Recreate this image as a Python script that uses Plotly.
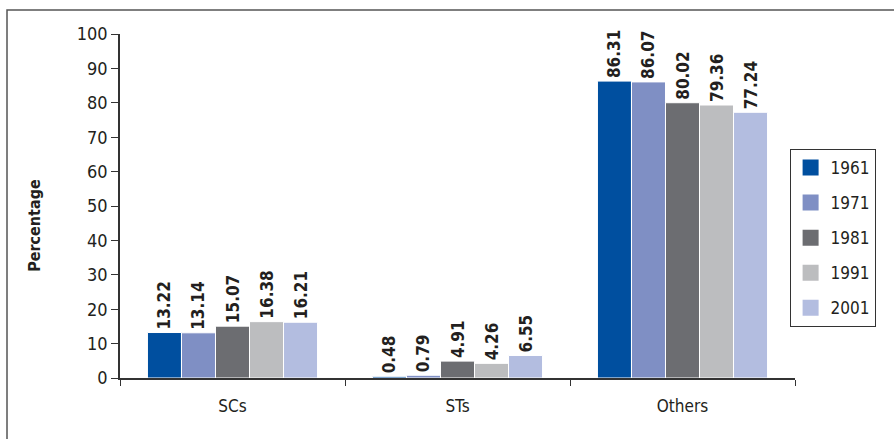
import plotly.graph_objects as go

categories = ["SCs", "STs", "Others"]
years = ["1961", "1971", "1981", "1991", "2001"]
values = {
    "1961": [13.22, 0.48, 86.31],
    "1971": [13.14, 0.79, 86.07],
    "1981": [15.07, 4.91, 80.02],
    "1991": [16.38, 4.26, 79.36],
    "2001": [16.21, 6.55, 77.24],
}
colors = ["#004f9f", "#7f8fc4", "#6c6d71", "#bcbdbf", "#b3bde0"]
y_ticks = list(range(0, 101, 10))
y_title = "Percentage"

FONT = "DejaVu Sans Condensed, Roboto, sans-serif"
TXT = "#231f20"

fig = go.Figure()
for i, yr in enumerate(years):
    vals = values[yr]
    fig.add_trace(go.Bar(
        x=categories, y=vals, name=yr, legendgroup=yr, showlegend=False,
        marker=dict(color=colors[i], line=dict(color="white", width=1)),
        text=[f"{v:.2f}" for v in vals],
        textposition="outside", textangle=-90, constraintext="none",
        textfont=dict(family=FONT, size=17, color=TXT, weight="bold"),
        cliponaxis=False,
    ))
# legend entries (square swatches) for the same series
for i, yr in enumerate(years):
    fig.add_trace(go.Scatter(
        x=[categories[0]], y=[None], name=yr, legendgroup=yr, mode="markers",
        marker=dict(symbol="square", size=16, color=colors[i]),
        hoverinfo="skip",
    ))

fig.update_layout(
    width=894, height=439,
    margin=dict(l=120, r=99, t=34, b=61),
    paper_bgcolor="white", plot_bgcolor="white",
    barmode="group", bargap=0.244, bargroupgap=0,
    font=dict(family=FONT, color=TXT, size=16),
    legend=dict(
        x=0.992, xanchor="left", y=0.666, yanchor="top",
        bordercolor="#333333", borderwidth=1,
        font=dict(family=FONT, size=17, color=TXT),
        traceorder="grouped", tracegroupgap=10,
        itemclick=False,
    ),
    xaxis=dict(
        showline=True, linecolor="#333333", linewidth=1.5,
        ticks="outside", tickson="boundaries", ticklen=6, tickcolor="#333333",
        tickfont=dict(family=FONT, size=17, color=TXT),
        ticklabelstandoff=12,
        showgrid=False,
    ),
    yaxis=dict(
        range=[0, 100], tickvals=y_ticks,
        showline=True, linecolor="#333333", linewidth=1.5,
        ticks="outside", ticklen=7, tickcolor="#333333",
        tickfont=dict(family=FONT, size=18, color=TXT),
        showgrid=False, zeroline=False,
    ),
    annotations=[dict(
        text=f"<b>{y_title}</b>", xref="paper", yref="paper",
        x=-0.126, y=0.445, xanchor="center", yanchor="middle",
        textangle=-90, showarrow=False,
        font=dict(family=FONT, size=16, color=TXT),
    )],
    shapes=[dict(
        type="rect", xref="paper", yref="paper",
        x0=-0.1674, x1=1.2, y0=-0.25, y1=1.0698,
        line=dict(color="#555555", width=1.5), fillcolor="rgba(0,0,0,0)", layer="below",
    )],
)

fig.write_html("out.html")
